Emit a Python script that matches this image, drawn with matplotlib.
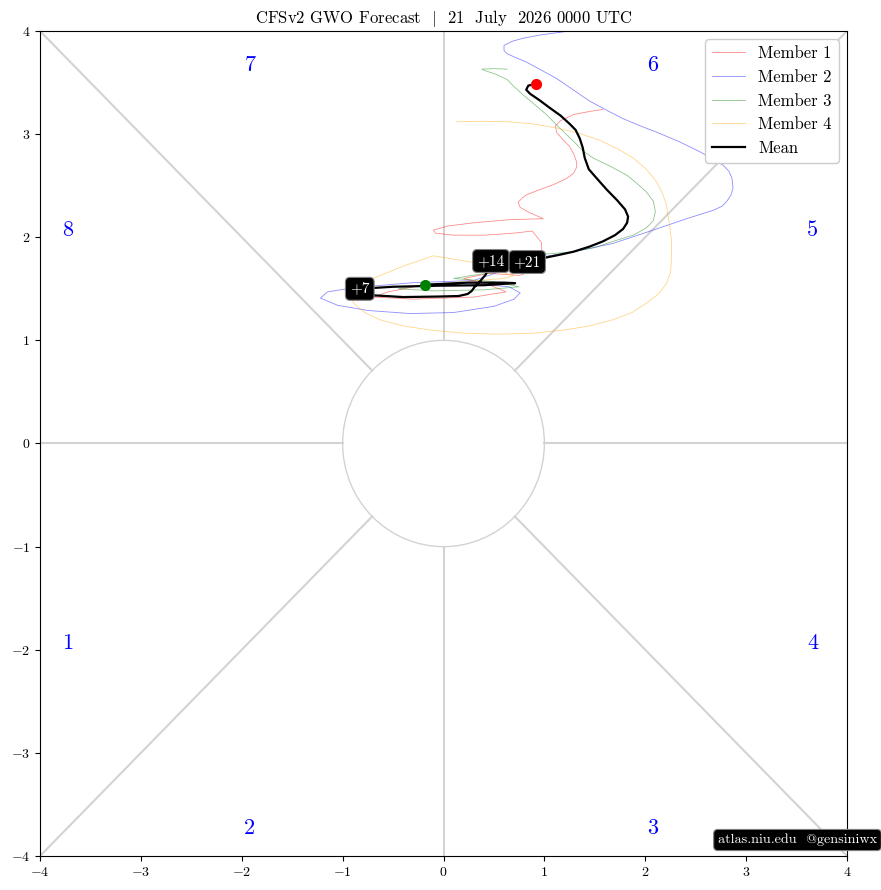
import numpy as np
import matplotlib
matplotlib.use("Agg")
import matplotlib.pyplot as plt

plt.rcParams['font.family'] = 'serif'
plt.rcParams['font.serif'] = ['cmr10']
plt.rcParams['mathtext.fontset'] = 'cm'
plt.rcParams['axes.formatter.use_mathtext'] = True

# ---------------- data ----------------
title_text = r'CFSv2 GWO Forecast  $|$  21  July  2026 0000 UTC'

mean_x = [-0.18, 0.25, 0.60, 0.71, 0.40, -0.05, -0.50, -0.83, -0.75, -0.40, -0.05, 0.15, 0.24,
          0.28, 0.31, 0.36, 0.42, 0.47, 0.52, 0.58, 0.63, 0.68, 0.73, 0.78, 0.83, 1.00, 1.15,
          1.29, 1.45, 1.58, 1.70, 1.78, 1.82, 1.83, 1.80, 1.72, 1.62, 1.52, 1.44, 1.40, 1.38,
          1.35, 1.31, 1.25, 1.16, 1.06, 0.95, 0.86, 0.82, 0.84, 0.92]
mean_y = [1.54, 1.56, 1.56, 1.555, 1.535, 1.53, 1.52, 1.50, 1.44, 1.42, 1.425, 1.43, 1.45,
          1.48, 1.52, 1.57, 1.64, 1.77, 1.76, 1.75, 1.75, 1.745, 1.75, 1.755, 1.76, 1.80, 1.83,
          1.86, 1.91, 1.96, 2.02, 2.08, 2.14, 2.20, 2.27, 2.36, 2.46, 2.57, 2.66, 2.77, 2.87,
          2.96, 3.04, 3.10, 3.18, 3.25, 3.33, 3.39, 3.43, 3.47, 3.49]
lead_days = [7, 14, 21]
lead_index = [7, 17, 24]

m1_x = [-0.18, -0.55, -0.70, -0.30, 0.30, 0.62, 0.45, 0.20, 0.45, 0.75, 0.92, 0.98, 0.97, 0.88,
        0.70, 0.40, 0.10, -0.08, -0.10, 0.05, 0.30, 0.65, 0.99, 0.85, 0.76, 0.74, 0.78, 0.82,
        0.95, 1.09, 1.22, 1.29, 1.32, 1.32, 1.29, 1.25, 1.18, 1.12, 1.11, 1.16, 1.29, 1.45, 1.58]
m1_y = [1.54, 1.47, 1.42, 1.40, 1.42, 1.47, 1.54, 1.60, 1.65, 1.63, 1.68, 1.78, 1.95, 2.06,
        2.04, 2.02, 2.02, 2.04, 2.07, 2.11, 2.14, 2.17, 2.18, 2.24, 2.29, 2.34, 2.38, 2.41,
        2.46, 2.51, 2.57, 2.62, 2.68, 2.73, 2.81, 2.88, 2.95, 3.02, 3.08, 3.13, 3.19, 3.22, 3.24]

m2_x = [-0.18, 0.30, 0.65, 0.76, 0.70, 0.50, 0.10, -0.33, -0.75, -1.05, -1.22, -1.15, -0.90,
        -0.30, 0.30, 0.60, 0.80, 1.29, 1.68, 2.08, 2.41, 2.67, 2.76, 2.81, 2.85, 2.87, 2.86,
        2.83, 2.77, 2.68, 2.54, 2.33, 2.11, 1.95, 1.78, 1.62, 1.45, 1.30, 1.12, 0.97, 0.82,
        0.72, 0.63, 0.60, 0.60, 0.68, 0.79, 0.95, 1.25]
m2_y = [1.54, 1.55, 1.52, 1.46, 1.40, 1.33, 1.27, 1.26, 1.29, 1.34, 1.41, 1.47, 1.51,
        1.56, 1.58, 1.68, 1.78, 1.86, 1.94, 2.07, 2.18, 2.26, 2.30, 2.35, 2.41, 2.48, 2.57,
        2.64, 2.70, 2.75, 2.83, 2.93, 3.02, 3.08, 3.15, 3.23, 3.32, 3.42, 3.54, 3.62, 3.70,
        3.74, 3.78, 3.81, 3.86, 3.90, 3.93, 3.96, 4.00]

m3_x = [-0.18, -0.45, -0.10, 0.40, 0.75, 0.50, 0.10, 0.35, 0.70, 0.60, 1.06, 1.29, 1.50, 1.68,
        1.88, 2.01, 2.08, 2.10, 2.08, 2.01, 1.92, 1.82, 1.65, 1.48, 1.38, 1.29, 1.15, 1.02,
        0.90, 0.79, 0.70, 0.63, 0.52, 0.40, 0.38, 0.50, 0.63]
m3_y = [1.54, 1.50, 1.48, 1.49, 1.52, 1.57, 1.60, 1.64, 1.68, 1.81, 1.84, 1.86, 1.90, 1.96,
        2.02, 2.09, 2.16, 2.25, 2.35, 2.44, 2.52, 2.60, 2.69, 2.77, 2.84, 2.93, 3.06, 3.19,
        3.29, 3.38, 3.46, 3.53, 3.58, 3.62, 3.63, 3.635, 3.63]

m4_x = [-0.18, 0.20, 0.60, 0.70, 0.50, 0.33, -0.10, -0.40, -0.70, -0.90, -0.92, -0.89, -0.78,
        -0.63, -0.40, -0.13, 0.20, 0.53, 0.90, 1.19, 1.45, 1.68, 1.87, 2.01, 2.13, 2.21, 2.25,
        2.26, 2.26, 2.24, 2.21, 2.17, 2.11, 2.01, 1.88, 1.72, 1.55, 1.34, 1.12, 0.88, 0.63,
        0.38, 0.13]
m4_y = [1.54, 1.57, 1.60, 1.63, 1.68, 1.75, 1.82, 1.72, 1.60, 1.50, 1.42, 1.36, 1.27,
        1.20, 1.14, 1.10, 1.07, 1.06, 1.07, 1.10, 1.14, 1.20, 1.27, 1.36, 1.45, 1.55, 1.66,
        1.78, 1.97, 2.12, 2.31, 2.43, 2.54, 2.66, 2.77, 2.86, 2.94, 3.01, 3.06, 3.10, 3.12,
        3.125, 3.12]

members = [m1_x, m2_x, m3_x, m4_x]
members_y = [m1_y, m2_y, m3_y, m4_y]
member_labels = ['Member 1', 'Member 2', 'Member 3', 'Member 4']
member_colors = ['red', 'blue', 'green', 'orange']

phase_labels = ['1', '2', '3', '4', '5', '6', '7', '8']
phase_pos = [(-3.73, -1.94), (-1.92, -3.73), (2.07, -3.73), (3.66, -1.94),
             (3.66, 2.07), (2.07, 3.67), (-1.92, 3.67), (-3.73, 2.07)]

# ---------------- figure ----------------
fig = plt.figure(figsize=(8.81, 8.90), dpi=100)
ax = fig.add_axes([40/881, 1-856/890, 807/881, 825/890])
ax.set_xlim(-4, 4)
ax.set_ylim(-4, 4)

gc = 'lightgray'
r = np.cos(np.pi/4)
ax.plot([-4, -r], [-4, -r], color=gc, lw=1.5, zorder=1)
ax.plot([r, 4], [r, 4], color=gc, lw=1.5, zorder=1)
ax.plot([-4, -r], [4, r], color=gc, lw=1.5, zorder=1)
ax.plot([r, 4], [-r, -4], color=gc, lw=1.5, zorder=1)
ax.plot([-4, -1], [0, 0], color=gc, lw=1.5, zorder=1)
ax.plot([1, 4], [0, 0], color=gc, lw=1.5, zorder=1)
ax.plot([0, 0], [1, 4], color=gc, lw=1.5, zorder=1)
ax.plot([0, 0], [-4, -1], color=gc, lw=1.5, zorder=1)
ax.add_patch(plt.Circle((0, 0), 1, fill=False, color=gc, lw=1, zorder=1))

for lab, (px, py) in zip(phase_labels, phase_pos):
    ax.text(px, py, lab, color='blue', fontsize=16, ha='center', va='center')

for mx, my, lab, c in zip(members, members_y, member_labels, member_colors):
    ax.plot(mx, my, color=c, lw=0.6, alpha=0.45, label=lab, zorder=2)

ax.plot(mean_x, mean_y, color='black', lw=1.6, label='Mean', zorder=3)
ax.plot(mean_x[0], mean_y[0], 'o', color='green', ms=7, zorder=4)
ax.plot(mean_x[-1], mean_y[-1], 'o', color='red', ms=7, zorder=4)

for d, i in zip(lead_days, lead_index):
    ax.text(mean_x[i], mean_y[i], '+%d' % d, color='white', fontsize=11,
            ha='center', va='center', zorder=5,
            bbox=dict(boxstyle='round,pad=0.3', fc='black', ec='gray', lw=0.8))

ax.set_title(title_text, fontsize=12)
ax.tick_params(labelsize=10)
leg = ax.legend(loc='upper right', fontsize=12, framealpha=1)

fig.text(0.9955, 1-840/890, 'atlas.niu.edu  @gensiniwx', color='white', fontsize=10.2,
         ha='right', va='center',
         bbox=dict(boxstyle='round,pad=0.3', fc='black', ec='gray', lw=0.8))

fig.savefig('out.png', dpi=100)
